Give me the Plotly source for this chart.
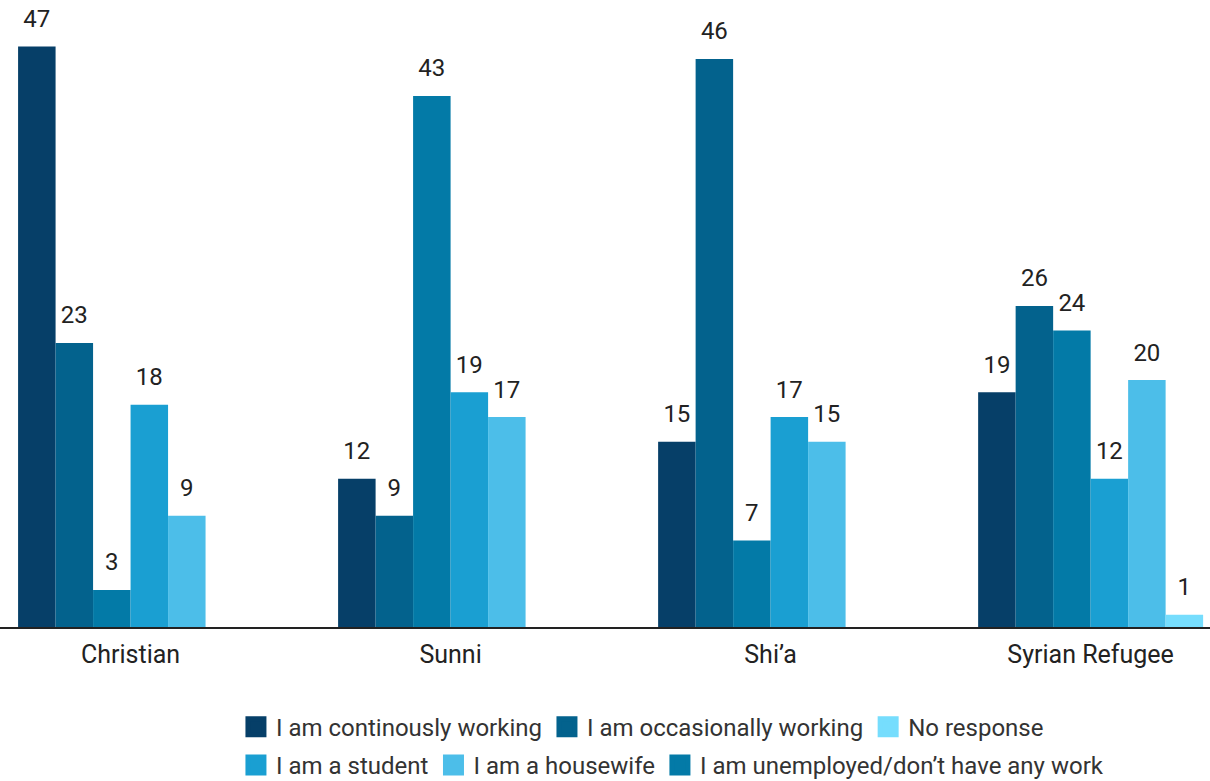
import plotly.graph_objects as go

groups = ["Christian", "Sunni", "Shi\u2019a", "Syrian Refugee"]

series_names = [
    "I am continously working",
    "I am occasionally working",
    "I am unemployed/don\u2019t have any work",
    "I am a student",
    "I am a housewife",
    "No response",
]
continuously_working = [47, 12, 15, 19]
occasionally_working = [23, 9, 46, 26]
unemployed = [3, 43, 7, 24]
student = [18, 19, 17, 12]
housewife = [9, 17, 15, 20]
no_response = [None, None, None, 1]

series_values = [continuously_working, occasionally_working, unemployed,
                 student, housewife, no_response]
colors = ["#063f68", "#03628d", "#037aa7", "#1a9fd2", "#4cbee9", "#76ddfd"]
# row of the legend each series is listed in
legend_ids = ["legend", "legend", "legend2", "legend2", "legend2", "legend"]
legend_ranks = [1, 2, 3, 1, 2, 3]

fig = go.Figure()
for name, vals, col in zip(series_names, series_values, colors):
    fig.add_trace(go.Bar(
        x=groups, y=vals, name=name, showlegend=False,
        marker=dict(color=col, line=dict(width=0)),
    ))

# value labels, placed over each bar via grouped scatter offsets
for name, vals in zip(series_names, series_values):
    fig.add_trace(go.Scatter(
        x=groups, y=vals, mode="markers+text", showlegend=False,
        text=[("" if v is None else str(v)) for v in vals],
        textposition="top center",
        textfont=dict(family="Roboto", size=24, color="#222222"),
        marker=dict(size=20, opacity=0), hoverinfo="skip", cliponaxis=False,
    ))

# larger square swatches for the legend, kept on a hidden overlay axis
for name, col, lg, rk in zip(series_names, colors, legend_ids, legend_ranks):
    fig.add_trace(go.Scatter(
        x=[None], y=[None], mode="markers", name=name, legend=lg,
        legendrank=rk, xaxis="x2", yaxis="y2",
        marker=dict(symbol="square", size=16, color=col,
                    line=dict(width=5, color=col)),
    ))

legend_font = dict(family="Roboto", size=24, color="#333333")

fig.update_layout(
    width=1210, height=781,
    paper_bgcolor="white", plot_bgcolor="white",
    barmode="group", bargap=0.297, bargroupgap=0,
    scattermode="group", scattergap=0.297,
    margin=dict(l=0, r=0, t=20, b=154, autoexpand=False),
    font=dict(family="Roboto", color="#222222"),
    xaxis=dict(
        range=[-0.408, 3.373], showgrid=False, showline=True,
        linecolor="#222222", linewidth=1.5, ticks="",
        tickfont=dict(family="Roboto", size=25, color="#222222"),
        ticklabelstandoff=4,
    ),
    yaxis=dict(range=[0, 49.15], visible=False),
    xaxis2=dict(overlaying="x", visible=False),
    yaxis2=dict(overlaying="y", visible=False),
    legend=dict(
        orientation="h", x=0.195, xanchor="left", y=-0.165, yanchor="middle",
        font=legend_font, bgcolor="rgba(0,0,0,0)", traceorder="normal",
    ),
    legend2=dict(
        orientation="h", x=0.195, xanchor="left", y=-0.228, yanchor="middle",
        font=legend_font, bgcolor="rgba(0,0,0,0)", traceorder="normal",
    ),
)

fig.write_html("out.html")
